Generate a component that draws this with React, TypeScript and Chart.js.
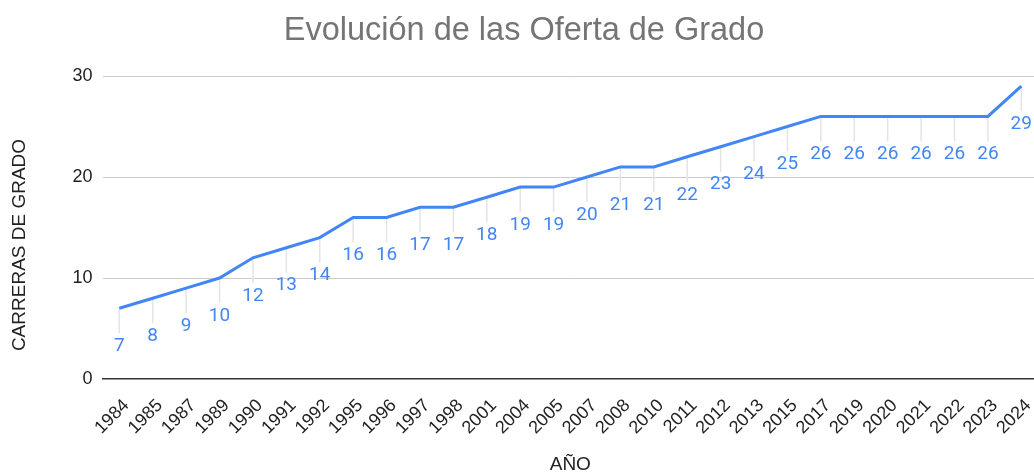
import React, { useEffect, useRef } from "react";
import { Chart, registerables } from "chart.js";

Chart.register(...registerables);

const years = [
  "1984", "1985", "1987", "1989", "1990", "1991", "1992", "1995", "1996", "1997",
  "1998", "2001", "2004", "2005", "2007", "2008", "2010", "2011", "2012", "2013",
  "2015", "2017", "2019", "2020", "2021", "2022", "2023", "2024",
];
const carreras = [
  7, 8, 9, 10, 12, 13, 14, 16, 16, 17, 17, 18, 19, 19, 20, 21, 21, 22, 23, 24,
  25, 26, 26, 26, 26, 26, 26, 29,
];
const yTickValues = [0, 10, 20, 30];
const chartTitle = "Evolución de las Oferta de Grado";
const xTitle = "AÑO";
const yTitle = "CARRERAS DE GRADO";

const BLUE = "#4285f4";
const SANS = "'Liberation Sans', Arial, sans-serif";

export default function App() {
  const ref = useRef<HTMLCanvasElement>(null);

  useEffect(() => {
    if (!ref.current) return;

    const labelPlugin = {
      id: "pointLabels",
      beforeDatasetsDraw(chart: any) {
        const ctx = chart.ctx;
        const meta = chart.getDatasetMeta(0);
        ctx.save();
        ctx.strokeStyle = "#e4e4e4";
        ctx.lineWidth = 1.5;
        meta.data.forEach((pt: any) => {
          ctx.beginPath();
          ctx.moveTo(pt.x, pt.y);
          ctx.lineTo(pt.x, pt.y + 25);
          ctx.stroke();
        });
        ctx.restore();
      },
      afterDatasetsDraw(chart: any) {
        const ctx = chart.ctx;
        const meta = chart.getDatasetMeta(0);
        const values = chart.data.datasets[0].data;
        ctx.save();
        ctx.fillStyle = BLUE;
        ctx.font = "19px Roboto, sans-serif";
        ctx.textAlign = "center";
        ctx.textBaseline = "middle";
        meta.data.forEach((pt: any, i: number) => {
          ctx.fillText(String(values[i]), pt.x, pt.y + 38);
        });
        ctx.restore();
      },
      afterDraw(chart: any) {
        const ctx = chart.ctx;
        ctx.save();
        ctx.translate(20, 245);
        ctx.rotate(-Math.PI / 2);
        ctx.fillStyle = "#222222";
        ctx.font = `19px ${SANS}`;
        ctx.textAlign = "center";
        ctx.textBaseline = "middle";
        ctx.fillText(yTitle, 0, 0);
        ctx.restore();
      },
    };

    const chart = new Chart(ref.current, {
      type: "line",
      data: {
        labels: years,
        datasets: [
          {
            data: carreras,
            borderColor: BLUE,
            backgroundColor: BLUE,
            borderWidth: 3,
            pointRadius: 0,
            tension: 0,
            fill: false,
          },
        ],
      },
      options: {
        responsive: false,
        animation: false,
        devicePixelRatio: 1,
        layout: { padding: { left: 10, right: 0, top: 0, bottom: 0 } },
        plugins: {
          legend: { display: false },
          tooltip: { enabled: false },
          title: {
            display: true,
            text: chartTitle,
            color: "#757575",
            font: { family: SANS, size: 32.5, weight: "normal", lineHeight: 1.2 },
            padding: { top: 12, bottom: 25 },
          },
        },
        scales: {
          x: {
            offset: true,
            grid: { display: false, drawTicks: false },
            border: { display: true, color: "#333333", width: 1.5 },
            ticks: {
              color: "#222222",
              font: { family: SANS, size: 18 },
              minRotation: 45,
              maxRotation: 45,
              autoSkip: false,
              padding: 16,
              labelOffset: 7,
            },
            title: {
              display: true,
              text: xTitle,
              color: "#222222",
              font: { family: SANS, size: 19, lineHeight: 1 },
              padding: { top: 0, bottom: -2 },
            },
            afterFit(scale: any) {
              scale.height = 93;
              scale.paddingLeft = 0;
              scale.paddingRight = 0;
            },
          },
          y: {
            min: 0,
            max: 30,
            grid: {
              color: (c: any) => (c.tick && c.tick.value === 0 ? "rgba(0,0,0,0)" : "#cccccc"),
              lineWidth: 1,
              drawTicks: false,
            },
            border: { display: false },
            afterBuildTicks(scale: any) {
              scale.ticks = yTickValues.map((v) => ({ value: v }));
            },
            ticks: {
              color: "#222222",
              font: { family: SANS, size: 18 },
              padding: 10,
            },
            afterFit(scale: any) {
              scale.width = 92.6;
              scale.paddingTop = 0;
              scale.paddingBottom = 0;
            },
          },
        },
      },
      plugins: [labelPlugin],
    });

    return () => chart.destroy();
  }, []);

  return (
    <div
      style={{
        position: "fixed",
        left: 0,
        top: 0,
        width: 1034,
        height: 472,
        overflow: "hidden",
        background: "#ffffff",
      }}
    >
      <canvas
        ref={ref}
        width={1038}
        height={472}
        style={{ width: 1038, height: 472, display: "block" }}
      />
    </div>
  );
}
